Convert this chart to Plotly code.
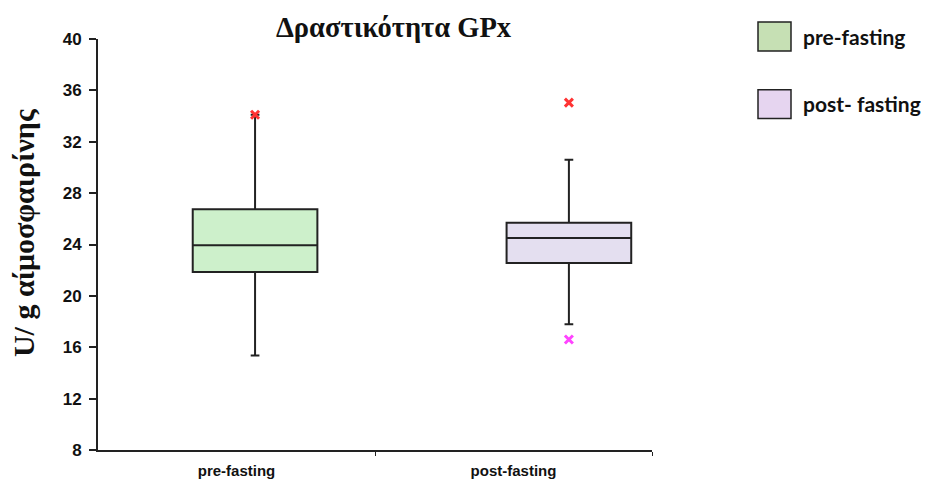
import plotly.graph_objects as go

# ---- data ----
groups = ["pre-fasting", "post-fasting"]
legend_labels = ["pre-fasting", "post- fasting"]
q1 = [21.85, 22.55]
median = [23.95, 24.5]
q3 = [26.75, 25.7]
lower_whisker = [15.35, 17.8]
upper_whisker = [34.1, 30.6]
max_marker = [34.1, 35.05]
min_marker = [None, 16.6]
y_ticks = [8, 12, 16, 20, 24, 28, 32, 36, 40]

# ---- layout constants ----
W, H = 929, 483
OFF = 7  # page offset of the figure inside the browser
PL, PR, PT, PB = 97, 651, 38, 451  # desired plot area in page pixels
ML, MT = PL - OFF, PT - OFF
MR = W - (PR - OFF)
MB = H - (PB - OFF)
box_pos = [0.567, 1.70]
cat_pos = [0.5, 1.5]
box_fill = ["#cdf0cb", "#e4dff0"]
legend_fill = ["#c6e0b4", "#e6d5f0"]

fig = go.Figure()
for i, g in enumerate(groups):
    fig.add_trace(go.Box(
        x=[box_pos[i]], q1=[q1[i]], median=[median[i]], q3=[q3[i]],
        lowerfence=[lower_whisker[i]], upperfence=[upper_whisker[i]],
        width=0.45, whiskerwidth=0.07, fillcolor=box_fill[i],
        line=dict(color="#222222", width=2), boxpoints=False,
        name=g, showlegend=False, hoverinfo="skip"))

fig.add_trace(go.Scatter(
    x=box_pos, y=max_marker, mode="markers",
    marker=dict(symbol="x-thin", size=8, line=dict(color="#ff3333", width=3)),
    showlegend=False, hoverinfo="skip"))
fig.add_trace(go.Scatter(
    x=box_pos, y=min_marker, mode="markers",
    marker=dict(symbol="x-thin", size=8, line=dict(color="#ff44ff", width=3)),
    showlegend=False, hoverinfo="skip"))

plot_w = PR - PL
plot_h = PB - PT

def px_x(px):
    return (px - PL) / plot_w

def px_y(py):
    return 1 - (py - PT) / plot_h

shapes = []
annotations = []
leg_tops = [21, 89]
for i, lab in enumerate(legend_labels):
    top = leg_tops[i]
    shapes.append(dict(type="rect", xref="paper", yref="paper",
                       x0=px_x(757), x1=px_x(790), y0=px_y(top + 29), y1=px_y(top),
                       fillcolor=legend_fill[i], line=dict(color="#222222", width=1.5)))
    annotations.append(dict(xref="paper", yref="paper", x=px_x(800), y=px_y(top + 14),
                            xanchor="left", yanchor="middle", showarrow=False,
                            text="<b>%s</b>" % lab,
                            font=dict(family="Lato", size=21, color="#111111")))

annotations.append(dict(xref="paper", yref="paper", x=px_x(393), y=px_y(26),
                        xanchor="center", yanchor="middle", showarrow=False,
                        text="<b>Δραστικότητα GPx</b>",
                        font=dict(family="Liberation Serif", size=28.5, color="#111111")))
annotations.append(dict(xref="paper", yref="paper", x=px_x(22), y=px_y(233),
                        xanchor="center", yanchor="middle", showarrow=False, textangle=-90,
                        text="<b>U/ g αίμοσφαιρίνης</b>",
                        font=dict(family="Liberation Serif", size=30, color="#111111")))

fig.update_layout(
    width=W, height=H, margin=dict(l=ML, r=MR, t=MT, b=MB),
    paper_bgcolor="white", plot_bgcolor="white",
    showlegend=False, shapes=shapes, annotations=annotations,
    xaxis=dict(range=[0, 2], tickvals=cat_pos, ticktext=["<b>%s</b>" % g for g in groups],
               ticks="", showline=True, linecolor="#222222", linewidth=2,
               showgrid=False, zeroline=False, ticklabelstandoff=6,
               tickfont=dict(family="Liberation Sans", size=15, color="#111111"),
               minor=dict(tickvals=[1, 2], ticks="outside", ticklen=4,
                          tickcolor="#222222", showgrid=False)),
    yaxis=dict(range=[8, 40], tickvals=y_ticks, ticktext=["<b>%d</b>" % t for t in y_ticks],
               ticks="outside", ticklen=7, tickwidth=1.5, tickcolor="#222222",
               showline=True, linecolor="#222222", linewidth=2,
               showgrid=False, zeroline=False, ticklabelstandoff=4,
               tickfont=dict(family="Liberation Sans", size=17, color="#111111")),
)

fig.write_html("out.html")
